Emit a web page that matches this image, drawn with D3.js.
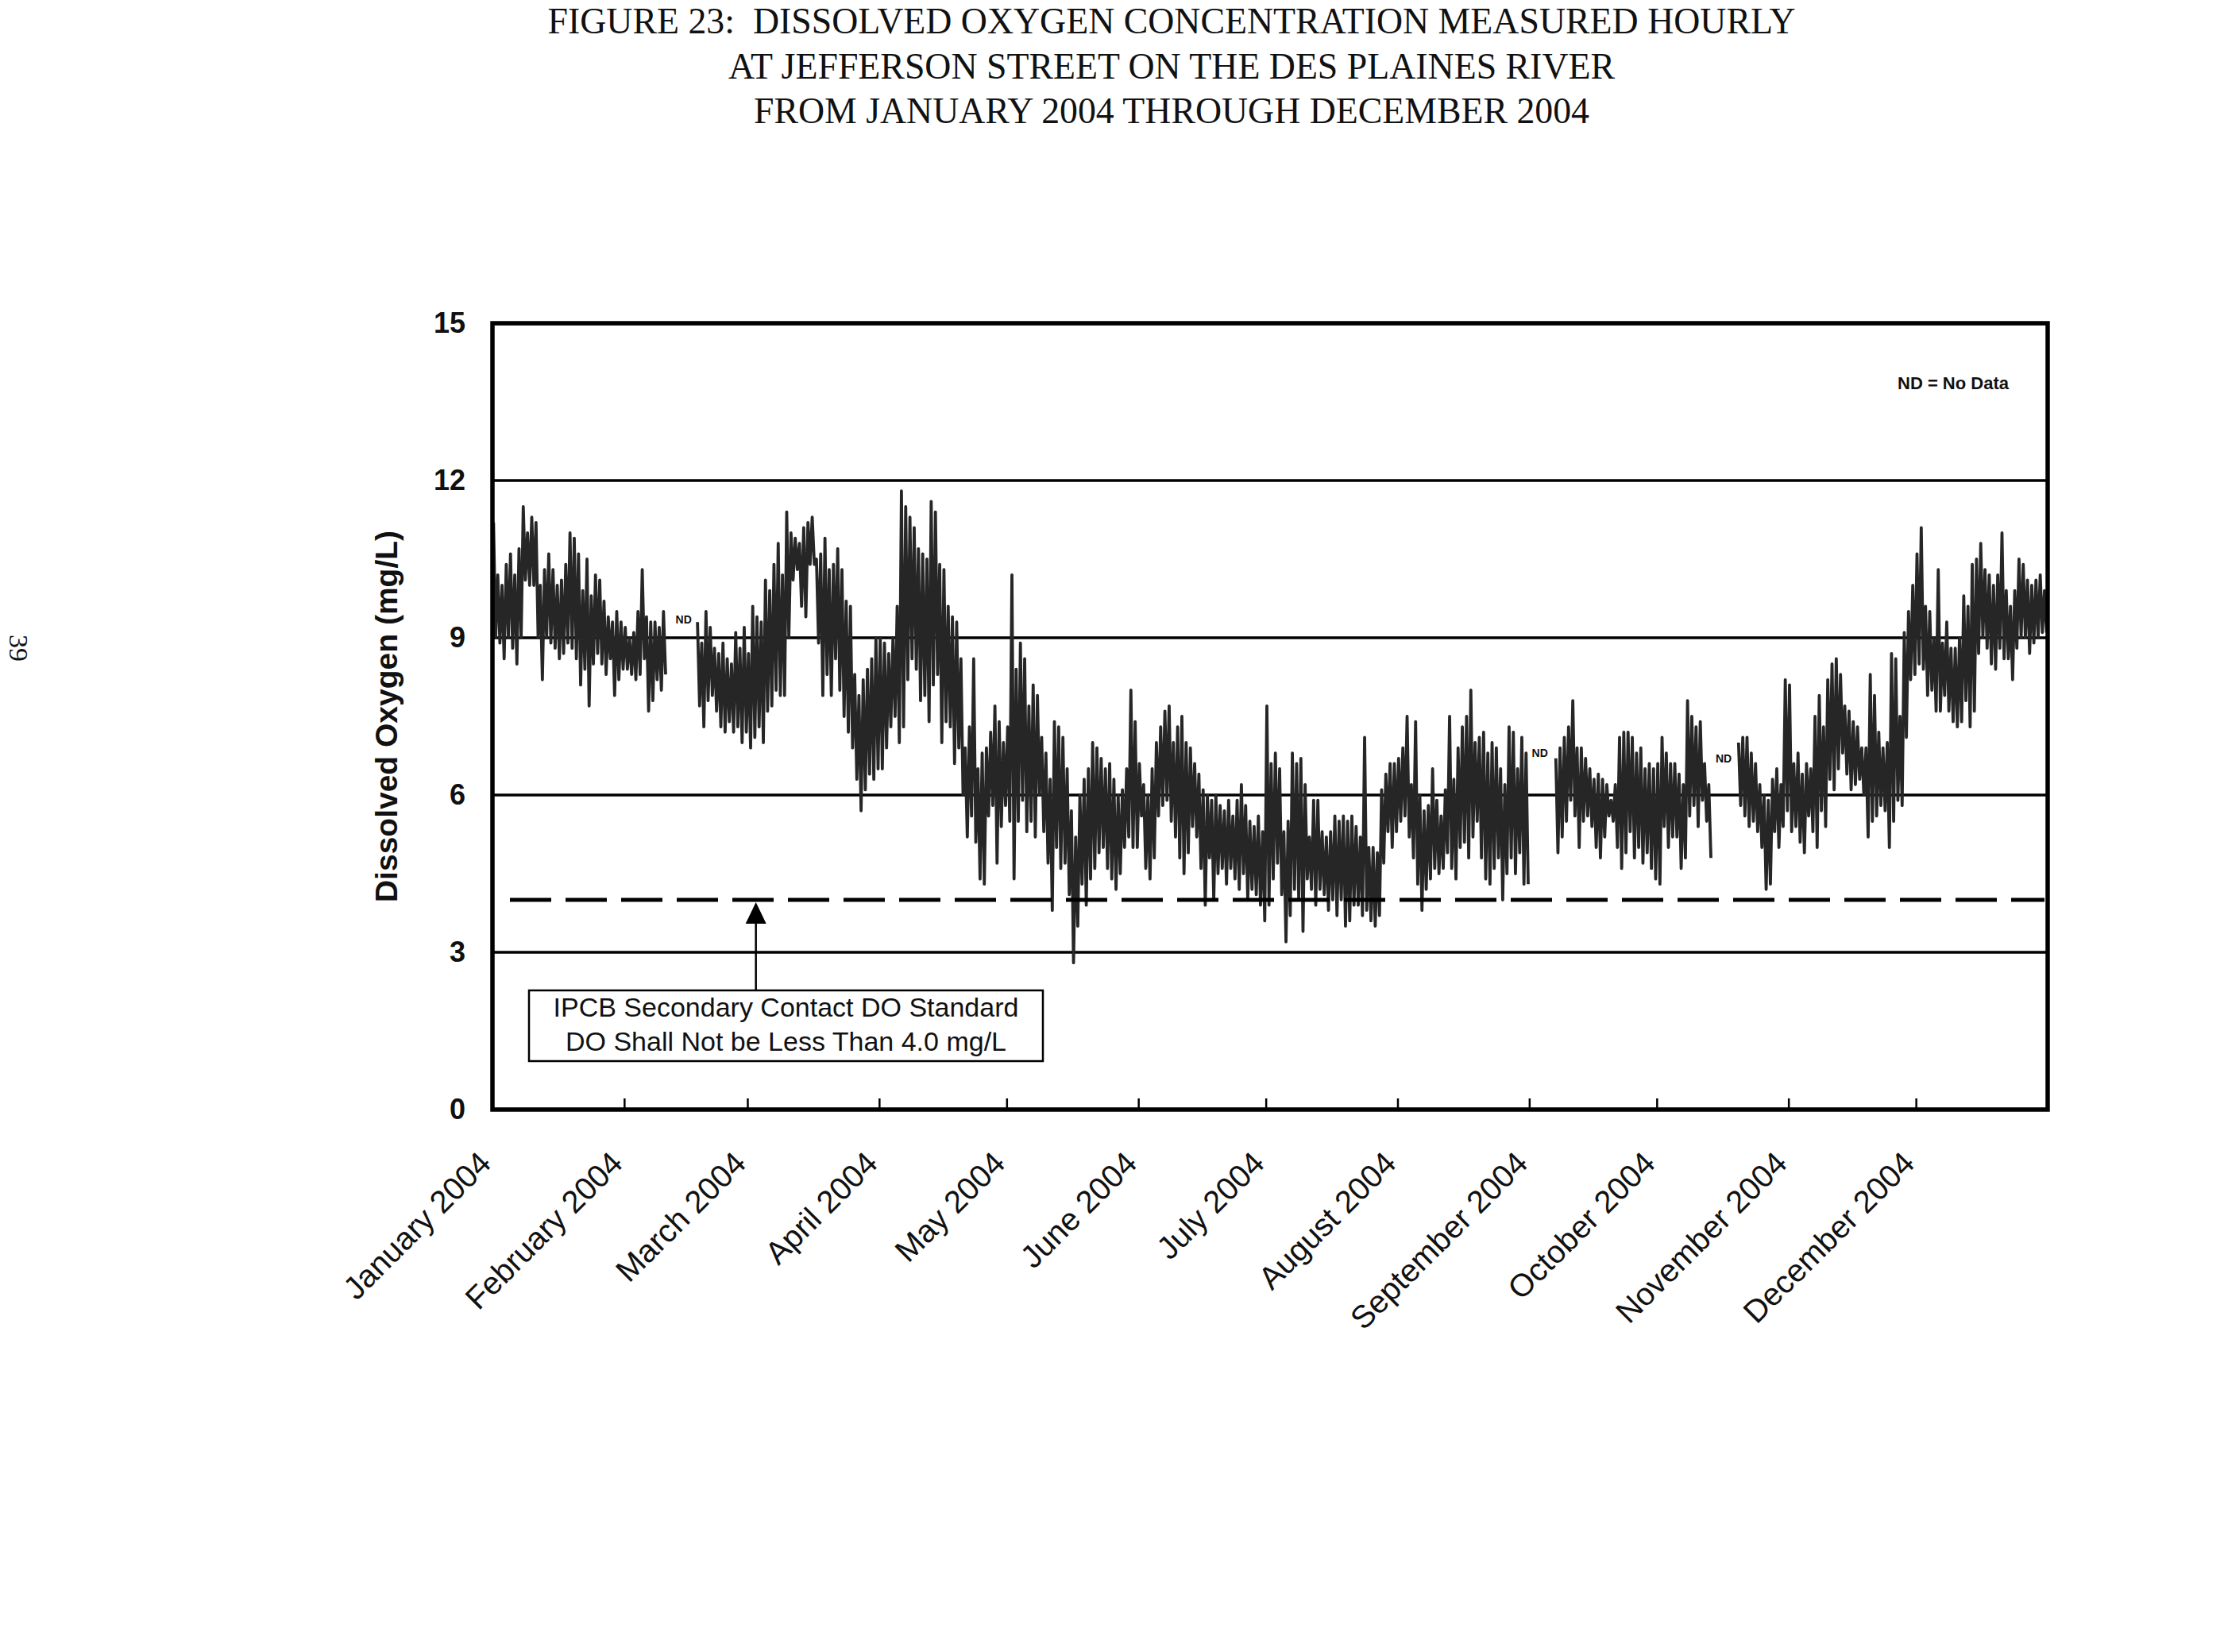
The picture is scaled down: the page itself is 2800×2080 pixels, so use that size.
<!DOCTYPE html>
<html>
<head>
<meta charset="utf-8">
<script src="https://cdn.jsdelivr.net/npm/d3@7"></script>
<style>
  body { margin: 0; background: #fff; }
  .title { white-space: pre; }
</style>
</head>
<body>
<svg id="chart"></svg>
<script>
// ---- data ----
const titleLines = [
    "FIGURE 23:  DISSOLVED OXYGEN CONCENTRATION MEASURED HOURLY",
    "AT JEFFERSON STREET ON THE DES PLAINES RIVER",
    "FROM JANUARY 2004 THROUGH DECEMBER 2004"
];

const monthLabels = ["January 2004", "February 2004", "March 2004", "April 2004", "May 2004", "June 2004",
    "July 2004", "August 2004", "September 2004", "October 2004", "November 2004", "December 2004"];

const yTicks = [0, 3, 6, 9, 12, 15];
const gridValues = [3, 6, 9, 12];
const doStandard = 4.0;

// daily high / low of the hourly DO record (mg/L), one entry per day from Jan 1; null = no data
const doHigh = [
    // Jan
    11.2, 10.2, 10.0, 10.4, 10.6, 10.2, 10.7, 11.5, 11.0, 11.3, 11.2, 10.0, 10.3, 10.6, 10.3, 10.0, 10.1, 10.4, 11.0, 10.9,
    10.6, 9.9, 10.5, 9.8, 10.2, 10.1, 9.7, 9.4, 9.3, 9.5, 9.3,
    // Feb
    9.2, 9.0, 9.1, 9.5, 10.3, 9.4, 9.3, 9.3, 9.2, 9.5, null, null, null, null, null, null, null,
    9.3, 8.9, 9.5, 9.2, 8.8, 8.7, 8.9, 8.6, 8.5, 9.1, 8.8, 9.2,
    // Mar
    8.7, 9.6, 9.4, 9.3, 10.1, 9.9, 10.4, 10.8, 10.2, 11.4, 11.0, 10.9, 10.8, 11.1, 11.2, 11.3, 10.5, 10.6, 10.9, 10.3,
    10.4, 10.7, 10.3, 9.7, 9.6, 8.3, 7.9, 8.2, 8.4, 8.6, 9.0,
    // Apr
    9.0, 8.9, 8.7, 9.0, 9.6, 11.8, 11.5, 11.3, 11.1, 10.7, 10.6, 10.5, 11.6, 11.4, 10.4, 10.3, 9.6, 9.4, 9.3, 8.6,
    6.9, 7.3, 8.6, 6.5, 6.8, 6.9, 7.2, 7.7, 7.4, 7.0,
    // May
    7.3, 10.2, 8.4, 8.9, 8.6, 7.7, 8.1, 7.9, 7.1, 6.8, 6.3, 7.4, 7.3, 7.1, 6.5, 5.7, 5.2, 6.0, 6.3, 6.5,
    7.0, 6.9, 6.7, 6.5, 6.6, 6.3, 6.0, 6.1, 6.5, 8.0, 7.4,
    // Jun
    6.6, 6.2, 6.0, 6.5, 7.0, 7.3, 7.6, 7.7, 7.0, 7.3, 7.5, 7.0, 6.9, 6.6, 6.4, 6.1, 6.0, 5.9, 6.0, 5.8,
    5.7, 5.9, 5.6, 5.9, 6.2, 5.8, 5.5, 5.4, 5.6, 5.3,
    // Jul
    7.7, 6.6, 6.8, 6.5, 5.3, 5.5, 6.8, 6.6, 6.7, 6.2, 5.2, 5.9, 5.9, 5.3, 5.2, 5.3, 5.6, 5.5, 5.6, 5.5,
    5.6, 5.4, 5.2, 7.1, 5.0, 5.0, 4.9, 6.1, 6.4, 6.6, 6.6,
    // Aug
    6.7, 6.9, 7.5, 6.2, 7.4, 6.0, 5.7, 5.8, 6.5, 5.9, 5.6, 6.1, 7.5, 6.3, 6.9, 7.3, 7.5, 8.0, 7.0, 7.1,
    7.2, 6.8, 7.0, 6.9, 6.5, 6.2, 7.3, 7.2, 6.5, 7.1, 6.8,
    // Sep
    null, null, null, null, null, null,
    6.7, 6.9, 7.1, 7.3, 7.8, 6.9, 6.9, 6.7, 6.5, 6.3, 6.4, 6.3, 6.2, 5.9, 6.2, 7.1, 7.2, 7.2, 7.1, 6.8,
    6.9, 6.5, 6.6, 6.5,
    // Oct
    6.6, 7.1, 6.8, 6.6, 6.6, 6.4, 6.2, 7.8, 7.5, 7.3, 7.4, 6.6, 6.2, null, null, null, null, null, null,
    7.0, 7.1, 7.1, 6.8, 6.6, 6.2, 6.0, 5.9, 6.3, 6.5, 6.2, 8.2,
    // Nov
    8.1, 6.6, 6.8, 6.4, 6.6, 6.5, 7.5, 7.9, 7.3, 8.2, 8.5, 8.6, 8.3, 7.7, 7.6, 7.4, 7.3, 6.9, 6.9, 8.3,
    7.9, 7.2, 6.9, 7.0, 8.7, 8.6, 7.5, 9.1, 9.5, 10.0,
    // Dec
    10.6, 11.1, 9.6, 9.5, 9.0, 10.3, 8.9, 9.3, 8.8, 8.8, 9.0, 9.8, 9.6, 10.4, 10.5, 10.8, 10.3, 10.2, 10.0, 10.2,
    11.0, 9.9, 9.6, 9.9, 10.5, 10.4, 10.1, 10.0, 10.1, 10.2, 9.9
];

const doLow = [
    // Jan
    9.0, 8.9, 8.6, 9.0, 8.8, 8.5, 9.0, 10.1, 10.0, 10.0, 9.0, 8.2, 9.0, 8.9, 8.8, 8.6, 8.7, 8.9, 8.8, 8.6,
    8.1, 8.4, 7.7, 8.5, 8.7, 8.5, 8.3, 8.6, 7.9, 8.2, 8.4,
    // Feb
    8.4, 8.3, 8.2, 8.3, 8.6, 7.6, 7.8, 8.2, 8.0, 8.3, null, null, null, null, null, null, null,
    7.7, 7.3, 7.8, 7.9, 7.6, 7.3, 7.2, 7.4, 7.2, 7.3, 7.0, 7.2,
    // Mar
    6.9, 7.1, 7.3, 7.0, 7.6, 7.7, 8.0, 7.9, 7.9, 9.0, 10.1, 10.3, 9.6, 9.4, 10.4, 10.4, 8.9, 7.9, 8.3, 7.9,
    8.6, 8.0, 7.5, 7.2, 6.9, 6.3, 5.7, 6.1, 6.4, 6.3, 6.5,
    // Apr
    6.5, 6.9, 7.3, 7.5, 7.0, 7.3, 8.2, 8.6, 8.4, 7.8, 7.9, 7.4, 8.1, 8.3, 7.0, 7.4, 7.3, 6.6, 6.9, 6.0,
    5.2, 5.6, 5.1, 4.4, 4.3, 5.6, 5.8, 4.7, 5.4, 5.8,
    // May
    5.5, 4.4, 5.5, 5.9, 5.3, 5.5, 5.2, 6.0, 5.3, 4.7, 3.8, 5.0, 4.6, 4.7, 4.1, 2.8, 3.5, 4.3, 3.9, 4.4,
    4.6, 4.9, 5.0, 4.6, 4.4, 4.2, 4.5, 5.0, 5.2, 5.0, 5.0,
    // Jun
    5.6, 4.6, 4.4, 4.8, 5.6, 5.8, 5.9, 5.5, 5.2, 4.8, 4.5, 4.9, 5.4, 5.2, 4.6, 3.9, 4.8, 4.0, 4.5, 4.6,
    4.3, 4.6, 4.4, 4.2, 4.5, 4.0, 4.2, 4.1, 3.9, 3.6,
    // Jul
    3.9, 4.4, 4.7, 4.1, 3.2, 3.7, 4.2, 4.0, 3.4, 4.4, 4.2, 3.9, 4.2, 4.1, 3.8, 4.0, 3.7, 4.0, 3.5, 3.6,
    3.9, 3.9, 3.7, 3.8, 3.6, 3.5, 3.7, 4.7, 5.3, 5.0, 5.3,
    // Aug
    5.5, 5.6, 5.2, 4.8, 4.3, 3.8, 4.2, 4.4, 4.6, 4.5, 4.6, 4.9, 4.6, 4.4, 5.0, 5.1, 4.8, 5.2, 5.5, 4.8,
    4.4, 4.3, 4.6, 4.8, 4.0, 4.5, 4.8, 4.5, 4.9, 4.3, 4.3,
    // Sep
    null, null, null, null, null, null,
    4.9, 5.2, 5.5, 5.9, 5.6, 5.0, 5.5, 5.6, 5.4, 5.0, 4.8, 5.2, 5.6, 5.5, 5.0, 4.6, 4.9, 5.3, 4.8, 5.0,
    4.7, 4.9, 4.6, 4.4,
    // Oct
    4.3, 5.4, 5.0, 5.2, 5.2, 4.6, 4.8, 5.6, 5.8, 5.4, 5.9, 5.5, 4.8, null, null, null, null, null, null,
    5.8, 5.6, 5.4, 5.5, 5.3, 5.0, 4.2, 4.3, 5.3, 5.0, 5.4, 5.7,
    // Nov
    5.3, 5.4, 5.1, 4.9, 5.6, 5.3, 5.0, 5.7, 5.4, 6.3, 6.1, 6.5, 6.8, 6.4, 6.1, 6.2, 6.3, 6.0, 5.2, 5.5,
    5.6, 5.8, 5.7, 5.0, 5.5, 5.9, 5.8, 7.1, 8.2, 8.3,
    // Dec
    8.5, 8.4, 7.9, 8.0, 7.6, 7.6, 7.9, 7.6, 7.4, 7.3, 7.4, 7.8, 7.3, 7.6, 8.7, 9.0, 8.8, 8.5, 8.4, 8.8,
    8.6, 8.6, 8.2, 8.8, 9.0, 9.0, 8.7, 8.9, 9.0, 9.1, 9.1
];

// "ND" markers placed over the data gaps: [date, mg/L level]
const ndMarks = [
    [new Date(2004, 1, 15), 9.35],
    [new Date(2004, 8, 3, 12), 6.8],
    [new Date(2004, 9, 16, 18), 6.7]
];

// ---- layout ----
const W = 2800, H = 2080;
const plot = { left: 620, right: 2578, top: 407, bottom: 1397 };
const sans = "'Liberation Sans', Arial, sans-serif";
const serif = "'Liberation Serif', 'Times New Roman', serif";

const svg = d3.select("#chart").attr("width", W).attr("height", H);
svg.append("rect").attr("width", W).attr("height", H).attr("fill", "#fff");

const start = new Date(2004, 0, 1);
const end = new Date(2005, 0, 1);

const x = d3.scaleTime().domain([start, end]).range([plot.left, plot.right]);
const y = d3.scaleLinear().domain([0, 15]).range([plot.bottom, plot.top]);

// title
const titleWidths = [1571, 1116, 1052];
svg.append("g").selectAll("text")
    .data(titleLines)
    .join("text")
    .attr("class", "title")
    .attr("x", 1475)
    .attr("y", (d, i) => 42 + i * 56.5)
    .attr("text-anchor", "middle")
    .attr("font-family", serif)
    .attr("font-size", 47)
    .attr("textLength", (d, i) => titleWidths[i])
    .attr("lengthAdjust", "spacingAndGlyphs")
    .attr("fill", "#111")
    .text(d => d);

// page number on the left margin
svg.append("text")
    .attr("transform", "translate(12,816) rotate(90)")
    .attr("text-anchor", "middle")
    .attr("font-family", serif)
    .attr("font-size", 34)
    .attr("fill", "#111")
    .text("39");

// horizontal grid lines
svg.append("g").selectAll("line")
    .data(gridValues)
    .join("line")
    .attr("x1", plot.left).attr("x2", plot.right)
    .attr("y1", d => y(d)).attr("y2", d => y(d))
    .attr("stroke", "#000")
    .attr("stroke-width", 3.5);

// y axis labels
const yAxis = svg.append("g")
    .attr("transform", `translate(${plot.left},0)`)
    .call(d3.axisLeft(y).tickValues(yTicks).tickSize(0).tickPadding(34));
yAxis.select(".domain").remove();
yAxis.selectAll("text")
    .attr("font-family", sans)
    .attr("font-size", 36)
    .attr("font-weight", "bold")
    .attr("fill", "#111");

svg.append("text")
    .attr("transform", `translate(500,${(plot.top + plot.bottom) / 2}) rotate(-90)`)
    .attr("text-anchor", "middle")
    .attr("font-family", sans)
    .attr("font-size", 39)
    .attr("font-weight", "bold")
    .attr("fill", "#111")
    .text("Dissolved Oxygen (mg/L)");

// hourly record drawn as a daily high/low trace
const points = [];
doHigh.forEach((h, i) => {
    points.push({ t: new Date(start.getTime() + (i + 0.25) * 864e5), v: h });
    points.push({ t: new Date(start.getTime() + (i + 0.75) * 864e5), v: doLow[i] });
});

const trace = d3.line()
    .defined(d => d.v != null)
    .x(d => x(d.t))
    .y(d => y(d.v));

svg.append("path")
    .datum(points)
    .attr("d", trace)
    .attr("fill", "none")
    .attr("stroke", "#262626")
    .attr("stroke-width", 3.8)
    .attr("stroke-linejoin", "round");

// ND markers
svg.append("g").selectAll("text")
    .data(ndMarks)
    .join("text")
    .attr("x", d => x(d[0]))
    .attr("y", d => y(d[1]))
    .attr("dy", "0.35em")
    .attr("text-anchor", "middle")
    .attr("font-family", sans)
    .attr("font-size", 14)
    .attr("font-weight", "bold")
    .attr("fill", "#111")
    .text("ND");

// 4.0 mg/L standard
svg.append("line")
    .attr("x1", plot.left + 22).attr("x2", plot.right - 4)
    .attr("y1", y(doStandard)).attr("y2", y(doStandard))
    .attr("stroke", "#000")
    .attr("stroke-width", 5)
    .attr("stroke-dasharray", "52 18");

// annotation box + arrow
const arrowX = x(new Date(2004, 2, 3));
const box = { x: 666, y: 1247, w: 647, h: 89 };
svg.append("line")
    .attr("x1", arrowX).attr("x2", arrowX)
    .attr("y1", box.y).attr("y2", y(doStandard) + 24)
    .attr("stroke", "#000").attr("stroke-width", 2.5);
svg.append("path")
    .attr("d", `M${arrowX},${y(doStandard) + 3} L${arrowX - 13},${y(doStandard) + 30} L${arrowX + 13},${y(doStandard) + 30} Z`)
    .attr("fill", "#000");

svg.append("rect")
    .attr("x", box.x).attr("y", box.y)
    .attr("width", box.w).attr("height", box.h)
    .attr("fill", "#fff")
    .attr("stroke", "#000")
    .attr("stroke-width", 2.5);

svg.append("g").selectAll("text")
    .data(["IPCB Secondary Contact DO Standard", "DO Shall Not be Less Than 4.0 mg/L"])
    .join("text")
    .attr("x", box.x + box.w / 2)
    .attr("y", (d, i) => box.y + 33 + i * 43)
    .attr("text-anchor", "middle")
    .attr("font-family", sans)
    .attr("font-size", 34)
    .attr("fill", "#111")
    .text(d => d);

// legend note
svg.append("text")
    .attr("x", 2529).attr("y", 490)
    .attr("text-anchor", "end")
    .attr("font-family", sans)
    .attr("font-size", 22)
    .attr("font-weight", "bold")
    .attr("fill", "#111")
    .text("ND = No Data");

// x axis: month ticks pointing inward, rotated labels
const months = d3.timeMonth.range(start, end);
const xAxis = svg.append("g")
    .attr("transform", `translate(0,${plot.bottom})`)
    .call(d3.axisBottom(x).tickValues(months).tickSize(-14).tickFormat((d, i) => monthLabels[i]));
xAxis.select(".domain").remove();
xAxis.selectAll(".tick line").attr("stroke", "#000").attr("stroke-width", 2.5);
xAxis.selectAll("text")
    .attr("y", 0)
    .attr("dy", 0)
    .attr("transform", "translate(0,70) rotate(-45)")
    .attr("text-anchor", "end")
    .attr("font-family", sans)
    .attr("font-size", 40)
    .attr("fill", "#111");

// plot frame
svg.append("rect")
    .attr("x", plot.left).attr("y", plot.top)
    .attr("width", plot.right - plot.left)
    .attr("height", plot.bottom - plot.top)
    .attr("fill", "none")
    .attr("stroke", "#000")
    .attr("stroke-width", 5.5);
</script>
</body>
</html>
